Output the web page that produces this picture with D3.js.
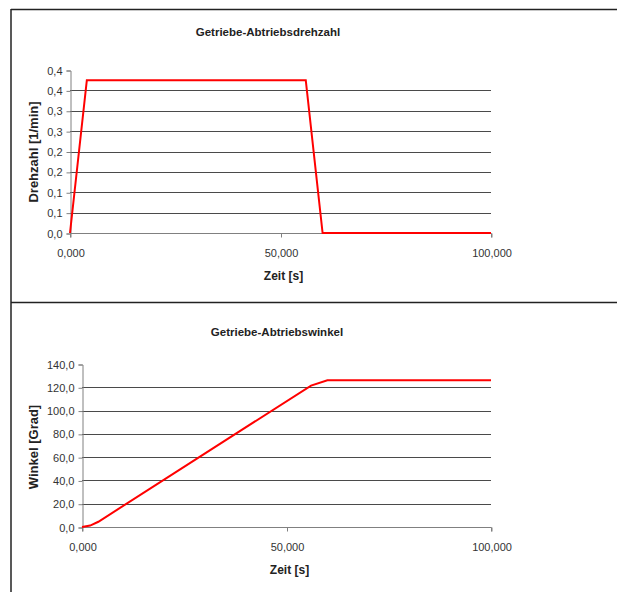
<!DOCTYPE html>
<html>
<head>
<meta charset="utf-8">
<script src="https://cdn.jsdelivr.net/npm/d3@7/dist/d3.min.js"></script>
<style>
  html, body { margin: 0; padding: 0; background: #fff; }
  svg { display: block; }
  text { font-family: "Liberation Sans", Arial, sans-serif; }
</style>
</head>
<body>
<svg id="chart" width="617" height="592"></svg>
<script>
// Time axis (s)
const xTicks = [0, 50, 100];
const xTickLabels = ["0,000", "50,000", "100,000"];

// Output speed (1/min) over time
const speedTime = [0, 4, 56, 60, 100];
const speedValue = [0, 0.375, 0.375, 0, 0];
const speedTicks = [0, 0.05, 0.1, 0.15, 0.2, 0.25, 0.3, 0.35, 0.4];
const speedTickLabels = ["0,0", "0,1", "0,1", "0,2", "0,2", "0,3", "0,3", "0,4", "0,4"];

// Output angle (deg) over time
const angleTime = [0, 2, 4, 56, 60, 100];
const angleValue = [0, 1.2, 4.5, 121.5, 126, 126];
const angleTicks = [0, 20, 40, 60, 80, 100, 120, 140];
const angleTickLabels = ["0,0", "20,0", "40,0", "60,0", "80,0", "100,0", "120,0", "140,0"];

const svg = d3.select("#chart");

// Frame lines around and between the two panels
const frame = svg.append("g").attr("stroke", "#222").attr("stroke-width", 1.5);
frame.append("line").attr("x1", 11).attr("x2", 617).attr("y1", 9.5).attr("y2", 9.5);
frame.append("line").attr("x1", 11).attr("x2", 11).attr("y1", 9).attr("y2", 592);
frame.append("line").attr("x1", 11).attr("x2", 617).attr("y1", 302.5).attr("y2", 302.5);

function panel(cfg) {
  const x = d3.scaleLinear().domain([0, 100]).range([cfg.left, cfg.right]);
  const y = d3.scaleLinear().domain(cfg.yDomain).range([cfg.bottom, cfg.top]);
  const g = svg.append("g");

  // Horizontal gridlines (none at the bottom or top of the range)
  g.append("g").selectAll("line")
    .data(cfg.yTicks.filter(v => v > cfg.yDomain[0] && v < cfg.yDomain[1]))
    .join("line")
    .attr("x1", cfg.left).attr("x2", cfg.right)
    .attr("y1", d => Math.round(y(d)) + 0.5).attr("y2", d => Math.round(y(d)) + 0.5)
    .attr("stroke", "#4a4a4a").attr("stroke-width", 1);

  // Y axis
  const yAxis = d3.axisLeft(y).tickValues(cfg.yTicks).tickSize(4).tickPadding(4)
    .tickFormat((d, i) => cfg.yLabels[i]);
  const ya = g.append("g")
    .attr("transform", `translate(${cfg.left + 0.5},0.5)`)
    .call(yAxis);
  ya.select(".domain").attr("stroke", "#808080");
  ya.selectAll(".tick line").attr("stroke", "#808080");
  ya.selectAll(".tick text").attr("font-size", 11).attr("fill", "#333")
    .attr("font-family", "'Liberation Sans', Arial, sans-serif");

  // X axis
  const xAxis = d3.axisBottom(x).tickValues(xTicks).tickSize(4).tickPadding(12)
    .tickFormat((d, i) => xTickLabels[i]);
  const xa = g.append("g")
    .attr("transform", `translate(0.5,${cfg.bottom + 0.5})`)
    .call(xAxis);
  xa.select(".domain").attr("stroke", "#808080").attr("d", `M${cfg.left},4V0H${cfg.right}V4`);
  xa.selectAll(".tick line").attr("stroke", "#808080");
  xa.selectAll(".tick text").attr("font-size", 11).attr("fill", "#333")
    .attr("font-family", "'Liberation Sans', Arial, sans-serif");

  // Data line
  const line = d3.line().x((d, i) => x(cfg.xs[i])).y(d => y(d));
  g.append("path")
    .datum(cfg.ys)
    .attr("d", line)
    .attr("fill", "none")
    .attr("stroke", "#ff0000")
    .attr("stroke-width", 2)
    .attr("stroke-linejoin", "miter");

  // Titles
  g.append("text")
    .attr("x", cfg.titleX).attr("y", cfg.titleY)
    .attr("text-anchor", "middle")
    .attr("font-size", 11.5).attr("font-weight", "bold").attr("fill", "#222")
    .text(cfg.title);
  g.append("text")
    .attr("x", (cfg.left + cfg.right) / 2 + 3).attr("y", cfg.bottom + 47)
    .attr("text-anchor", "middle")
    .attr("font-size", 12).attr("font-weight", "bold").attr("fill", "#222")
    .text("Zeit [s]");
  g.append("text")
    .attr("transform", `translate(37.5,${cfg.yTitleY}) rotate(-90)`)
    .attr("text-anchor", "middle")
    .attr("font-size", 13).attr("font-weight", "bold").attr("fill", "#222")
    .text(cfg.yTitle);
}

panel({
  left: 70, right: 491, top: 70, bottom: 233,
  yDomain: [0, 0.4], yTicks: speedTicks, yLabels: speedTickLabels,
  xs: speedTime, ys: speedValue,
  title: "Getriebe-Abtriebsdrehzahl", titleX: 268, titleY: 36,
  yTitle: "Drehzahl [1/min]", yTitleY: 152
});

panel({
  left: 82, right: 491, top: 364, bottom: 527,
  yDomain: [0, 140], yTicks: angleTicks, yLabels: angleTickLabels,
  xs: angleTime, ys: angleValue,
  title: "Getriebe-Abtriebswinkel", titleX: 277, titleY: 336,
  yTitle: "Winkel [Grad]", yTitleY: 447
});
</script>
</body>
</html>
